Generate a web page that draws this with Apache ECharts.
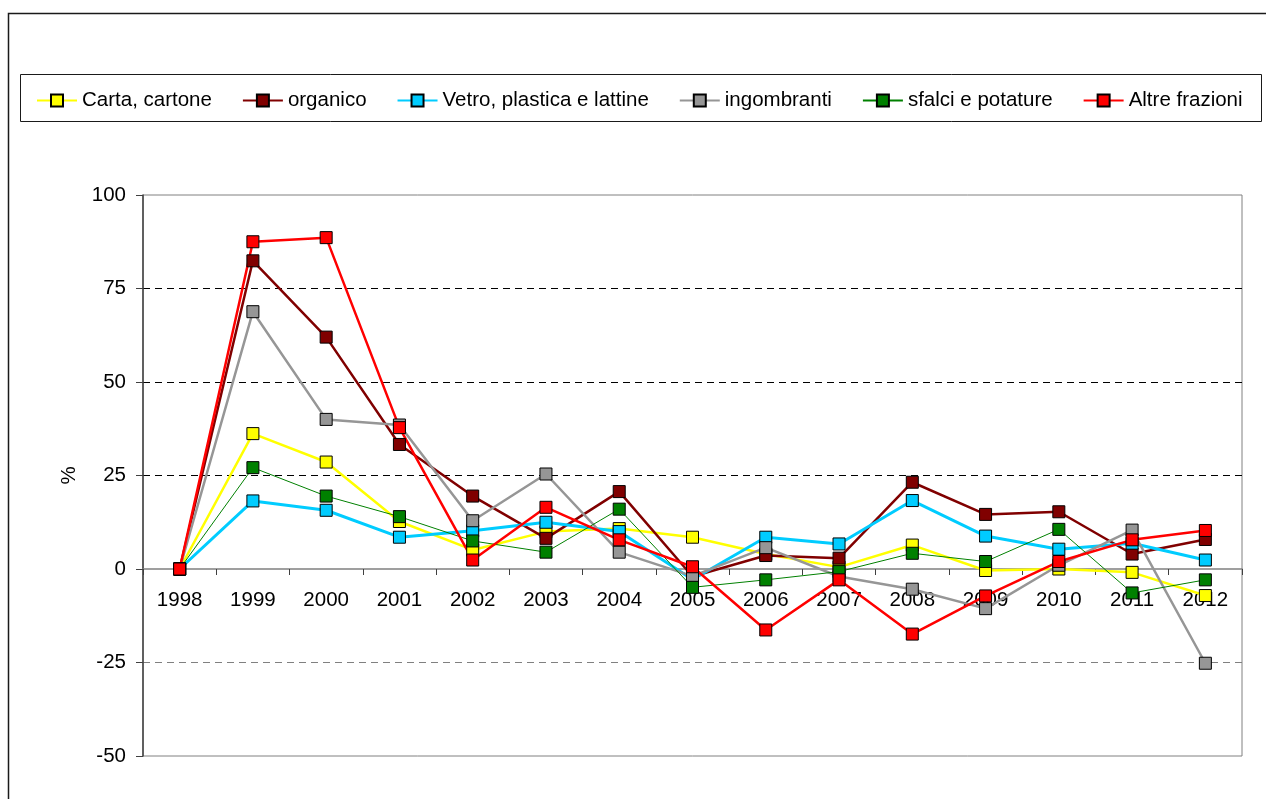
<!DOCTYPE html>
<html>
<head>
<meta charset="utf-8">
<style>
  html, body { margin: 0; padding: 0; background: #fff; }
  #chart { width: 1266px; height: 799px; }
</style>
<script src="https://cdn.jsdelivr.net/npm/echarts@6/dist/echarts.min.js"></script>
</head>
<body>
<div id="chart"></div>
<script>
const years = ['1998', '1999', '2000', '2001', '2002', '2003', '2004', '2005',
  '2006', '2007', '2008', '2009', '2010', '2011', '2012']

const carta = [0, 36.2, 28.6, 12.7, 5.1, 10.0, 10.8, 8.5, 4.0, 0.5, 6.4, -0.4, 0.0, -0.9, -7.1]
const organico = [0, 82.4, 62.0, 33.3, 19.5, 8.2, 20.7, -2.0, 3.6, 2.9, 23.2, 14.6, 15.3, 4.0, 7.9]
const vetro = [0, 18.2, 15.7, 8.5, 10.2, 12.5, 10.0, -2.8, 8.5, 6.7, 18.3, 8.8, 5.3, 6.9, 2.4]
const ingombranti = [0, 68.8, 40.0, 38.5, 12.9, 25.4, 4.5, -1.9, 5.7, -2.0, -5.4, -10.6, 1.0, 10.4, -25.2]
const sfalci = [0, 27.1, 19.5, 14.0, 7.5, 4.5, 16.0, -4.9, -2.9, -0.7, 4.2, 2.0, 10.6, -6.4, -2.9]
const altre = [0, 87.5, 88.6, 37.8, 2.4, 16.5, 7.8, 0.6, -16.3, -2.9, -17.4, -7.2, 2.0, 7.8, 10.3]

const FONT = 'Liberation Sans, Arial, sans-serif'

// y range, used to put the category axis on the zero line
const yMin = -50
const yMax = 100
const gridTop = 195
const gridBottom = 43
const plotHeight = 799 - gridTop - gridBottom
const zeroOffset = -plotHeight * (0 - yMin) / (yMax - yMin)

const makeSeries = (name, data, color, width) => ({
  name,
  type: 'line',
  data,
  symbol: 'rect',
  symbolSize: 12,
  lineStyle: { color, width },
  itemStyle: { color, borderColor: '#000', borderWidth: 1 },
  emphasis: { disabled: true }
})

const chart = echarts.init(document.getElementById('chart'))

chart.setOption({
  animation: false,
  textStyle: { fontFamily: FONT },
  graphic: [
    {
      type: 'rect',
      shape: { x: 8.5, y: 13.5, width: 1300, height: 900 },
      style: { fill: 'none', stroke: '#1a1a1a', lineWidth: 1.5 }
    },
    {
      type: 'rect',
      shape: { x: 20.5, y: 74.5, width: 1241, height: 47 },
      style: { fill: 'none', stroke: '#1a1a1a', lineWidth: 1 }
    }
  ],
  legend: {
    left: 36,
    top: 90,
    itemWidth: 40,
    itemHeight: 15,
    itemGap: 30,
    padding: 0,
    textStyle: { fontSize: 20.5, color: '#000', fontFamily: FONT }
  },
  grid: {
    left: 143,
    top: gridTop,
    right: 24,
    bottom: gridBottom,
    show: true,
    borderColor: '#808080',
    borderWidth: 1
  },
  xAxis: {
    type: 'category',
    data: years,
    boundaryGap: true,
    position: 'bottom',
    offset: zeroOffset,
    z: 0,
    axisLine: { onZero: false, lineStyle: { color: '#808080', width: 1.5 } },
    axisTick: { show: true, length: 6, interval: 0, lineStyle: { color: '#404040' } },
    axisLabel: { fontSize: 20.5, color: '#000', margin: 21, interval: 0 },
    splitLine: { show: false }
  },
  yAxis: {
    type: 'value',
    min: yMin,
    max: yMax,
    interval: 25,
    name: '%',
    nameLocation: 'middle',
    nameRotate: 90,
    nameGap: 63,
    nameTextStyle: { fontSize: 20.5, color: '#000' },
    axisLine: { show: true, lineStyle: { color: '#404040', width: 1.5 } },
    axisTick: { show: true, length: 7, lineStyle: { color: '#404040' } },
    axisLabel: { fontSize: 20.5, color: '#000', margin: 17 },
    splitLine: {
      show: true,
      lineStyle: {
        type: [7, 5],
        width: 1,
        color: ['transparent', '#808080', 'transparent', '#000', '#000', '#000', 'transparent']
      }
    }
  },
  series: [
    makeSeries('Carta, cartone', carta, '#ffff00', 2.5),
    makeSeries('organico', organico, '#800000', 2.5),
    makeSeries('Vetro, plastica e lattine', vetro, '#00ccff', 3),
    makeSeries('ingombranti', ingombranti, '#969696', 2.5),
    makeSeries('sfalci e potature', sfalci, '#008000', 1),
    makeSeries('Altre frazioni', altre, '#ff0000', 2.5)
  ]
})
</script>
</body>
</html>
